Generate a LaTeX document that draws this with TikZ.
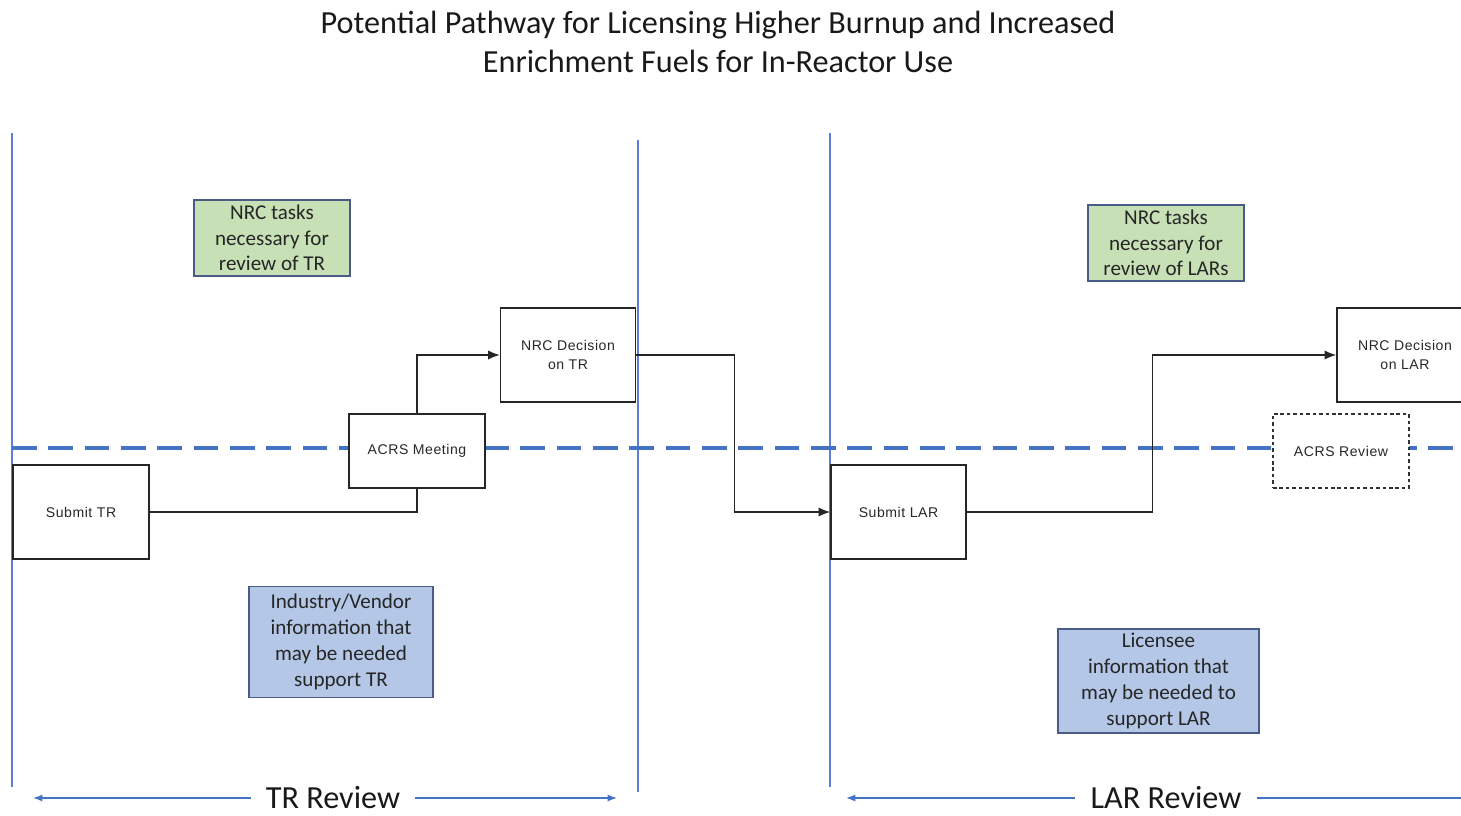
\documentclass[tikz,border=0pt]{standalone}
\usepackage{fontspec}
\setmainfont{Carlito}
\newfontfamily\arialfont[LetterSpace=4]{Liberation Sans}
\usetikzlibrary{arrows.meta}
\tikzset{>=Latex}
\definecolor{officeblue}{RGB}{68,114,196}
\definecolor{laneblue}{RGB}{95,125,215}
\definecolor{taskgreen}{RGB}{199,224,182}
\definecolor{infoblue}{RGB}{180,199,231}
\definecolor{frameblue}{RGB}{72,92,135}
\definecolor{boxtext}{RGB}{40,40,40}
\tikzset{
  procbox/.style={draw=black!85, line width=1.3pt, fill=white, inner sep=0pt,
    minimum width=4.08cm, minimum height=2.82cm, align=center, text=boxtext,
    font=\arialfont\fontsize{12}{15.5}\selectfont},
  shortbox/.style={procbox, minimum height=2.22cm},
  reviewbox/.style={shortbox, dash pattern=on 3pt off 2.5pt, draw=black!80},
  taskbox/.style={draw=frameblue, line width=1.2pt, fill=taskgreen, inner sep=0pt,
    minimum width=4.68cm, minimum height=2.28cm, align=center, text=black!85,
    font=\fontsize{18}{21.8}\selectfont},
  infobox/.style={taskbox, fill=infoblue, font=\fontsize{18}{22.4}\selectfont},
  lane/.style={draw=laneblue, line width=1.1pt},
  midline/.style={draw=officeblue, line width=3.2pt, dash pattern=on 21pt off 10pt},
  flow/.style={draw=black!85, line width=1.2pt},
  flowarrow/.style={flow, -{Latex[length=10pt,width=8pt]}},
  phase/.style={font=\fontsize{27.5}{33}\selectfont, text=black!90, inner xsep=0.45cm, inner ysep=0pt},
  span/.style={draw=officeblue, line width=1.1pt, -{Latex[length=8pt,width=6pt]}}
}
\begin{document}
\begin{tikzpicture}[x=0.03cm, y=-0.03cm]
  \useasboundingbox (0,0) rectangle (1461,816);
  \clip (0,0) rectangle (1461,816);
  % title
  \node (title) at (718,42) [align=center, font=\fontsize{27.5}{33.4}\selectfont, text=black!90]
    {Potential Pathway for Licensing Higher Burnup and Increased\\Enrichment Fuels for In-Reactor Use};
  % swim lane borders and the split line
  \draw[lane] (12,133) -- (12,787);
  \draw[lane] (638,140) -- (638,792);
  \draw[lane] (830,133) -- (830,787);
  \draw[midline] (12,448) -- (1470,448);
  % TR side
  \node[taskbox] (tasktr) at (272,238) {NRC tasks\\necessary for\\review of TR};
  \node[procbox] (subtr) at (81,512) {Submit TR};
  \node[shortbox] (acrs) at (417,451) {ACRS Meeting};
  \node[procbox, minimum width=4.05cm] (dectr) at (568,355) {NRC Decision\\on TR};
  \node[infobox, minimum width=5.52cm, minimum height=3.33cm] (infotr) at (341,642)
    {Industry/Vendor\\information that\\may be needed\\support TR};
  % LAR side
  \node[taskbox] (tasklar) at (1166,243) {NRC tasks\\necessary for\\review of LARs};
  \node[procbox, minimum width=4.05cm] (sublar) at (898.5,512) {Submit LAR};
  \node[reviewbox] (acrsrev) at (1341,451) {ACRS Review};
  \node[procbox] (declar) at (1405,355) {NRC Decision\\on LAR};
  \node[infobox, minimum width=6.03cm, minimum height=3.12cm] (infolar) at (1158.5,681)
    {Licensee\\information that\\may be needed to\\support LAR};
  % flow
  \draw[flow] (subtr.east) -| (acrs.south);
  \draw[flowarrow] (acrs.north) |- (dectr.west);
  \draw[flowarrow] (dectr.east) -- ++(98,0) |- (sublar.west);
  \draw[flowarrow] (sublar.east) -- ++(186,0) |- (declar.west);
  % phase spans
  \node[phase] (trrev) at (333,798) {TR Review};
  \coordinate (trL) at (33,798);
  \coordinate (trR) at (617,798);
  \draw[span] (trrev.west) -- (trL);
  \draw[span] (trrev.east) -- (trR);
  \node[phase] (larrev) at (1166,798) {LAR Review};
  \coordinate (larL) at (846,798);
  \coordinate (larR) at (1480,798);
  \draw[span] (larrev.west) -- (larL);
  \draw[span] (larrev.east) -- (larR);
\end{tikzpicture}
\end{document}
